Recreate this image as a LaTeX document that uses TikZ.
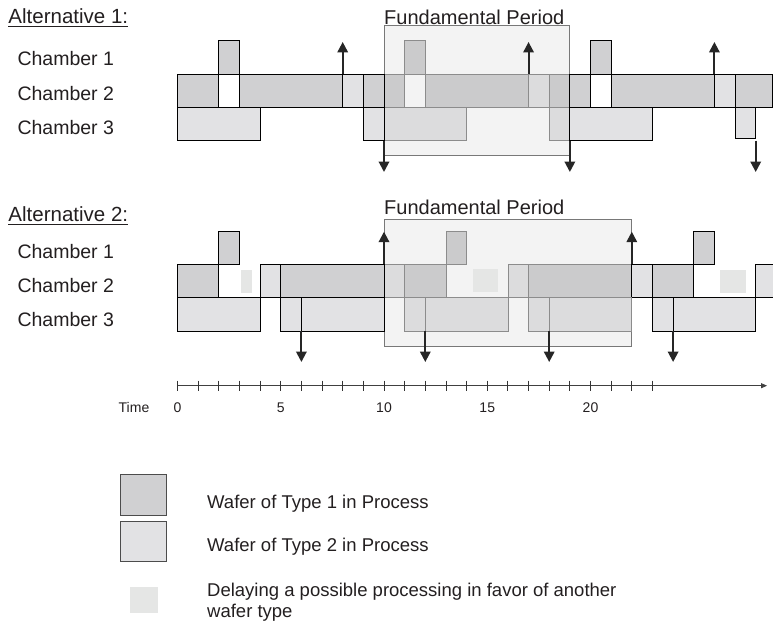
\documentclass[tikz,border=0pt]{standalone}
\usepackage{fontspec}
\setmainfont{Liberation Sans}
\usetikzlibrary{arrows.meta}

\definecolor{typeone}{RGB}{208,208,210}
\definecolor{typetwo}{RGB}{226,226,228}
\definecolor{typeonein}{RGB}{203,203,204}
\definecolor{typetwoin}{RGB}{220,220,221}
\definecolor{periodfill}{RGB}{243,243,243}
\definecolor{periodline}{RGB}{120,120,120}
\definecolor{innerline}{RGB}{140,140,140}
\definecolor{delayfill}{RGB}{229,230,229}
\definecolor{inktext}{RGB}{35,31,32}

% one time slot of a chamber: style, start, end, top, bottom
\newcommand\gslot[5]{\path[#1] (#2,#4) rectangle (#3,#5);}

\begin{document}
\begin{tikzpicture}[x=1pt,y=-1pt,
  wone/.style={fill=typeone,draw=black,line width=0.8pt},
  wtwo/.style={fill=typetwo,draw=black,line width=0.8pt},
  idle/.style={fill=white,draw=black,line width=0.8pt},
  wonein/.style={fill=typeonein,draw=innerline,line width=0.8pt},
  wtwoin/.style={fill=typetwoin,draw=innerline,line width=0.8pt},
  idlein/.style={draw=innerline,line width=0.8pt},
  periodbox/.style={fill=periodfill,draw=periodline,line width=1pt},
  delaysq/.style={fill=delayfill},
  upmark/.style={-{Triangle[length=10.5pt,width=10.5pt]},line width=2pt,draw=black!85},
  downmark/.style={-{Triangle[length=10.5pt,width=10.5pt]},line width=2pt,draw=black!85},
  timeaxis/.style={-{Triangle[length=6pt,width=5pt]},line width=0.8pt,draw=black!75},
  tickmark/.style={line width=0.9pt,draw=black!80},
  headline/.style={font=\fontsize{20.5}{24}\selectfont,text=inktext,inner sep=0pt,anchor=base west},
  rowlabel/.style={font=\fontsize{19.5}{23}\selectfont,text=inktext,inner sep=0pt,anchor=base west},
  ticklabel/.style={font=\fontsize{14}{17}\selectfont,text=inktext,inner sep=0pt,anchor=base},
  legendtext/.style={font=\fontsize{18.5}{22}\selectfont,text=inktext,inner sep=0pt,anchor=base west},
  legendbox/.style={draw=black!70,line width=0.8pt}]
\useasboundingbox (0,0) rectangle (773,626);

% ---------------- Alternative 1 ----------------
\node[headline] (altone) at (8.3,24) {Alternative 1:};
\draw[line width=0.9pt,inktext] ([yshift=-2.7pt]altone.base west) -- ([yshift=-2.7pt]altone.base east);
\node[rowlabel] (aonech1) at (17.3,66) {Chamber 1};
\node[rowlabel] (aonech2) at (17.3,100.5) {Chamber 2};
\node[rowlabel] (aonech3) at (17.3,134.5) {Chamber 3};
\node[headline,font=\fontsize{20}{24}\selectfont] (aoneperiod) at (384,25) {Fundamental Period};

\begin{scope}[x=20.65pt,xshift=177.5pt]
  \path[periodbox] (10,26) rectangle (19,155);
  % chamber 1
  \gslot{wonein}{11}{12}{40.7}{74}
  \gslot{wone}{2}{3}{40.7}{74}
  \gslot{wone}{20}{21}{40.7}{74}
  % chamber 2
  \gslot{wonein}{10}{11}{74}{107.3}
  \gslot{idlein}{11}{12}{74}{107.3}
  \gslot{wonein}{12}{17}{74}{107.3}
  \gslot{wtwoin}{17}{18}{74}{107.3}
  \gslot{wonein}{18}{19}{74}{107.3}
  \gslot{wone}{0}{2}{74}{107.3}
  \gslot{idle}{2}{3}{74}{107.3}
  \gslot{wone}{3}{8}{74}{107.3}
  \gslot{wtwo}{8}{9}{74}{107.3}
  \gslot{wone}{9}{10}{74}{107.3}
  \gslot{wone}{19}{20}{74}{107.3}
  \gslot{idle}{20}{21}{74}{107.3}
  \gslot{wone}{21}{26}{74}{107.3}
  \gslot{wtwo}{26}{27}{74}{107.3}
  \gslot{wone}{27}{28.82}{74}{107.3}
  % chamber 3
  \gslot{wtwoin}{10}{14}{107.3}{140.7}
  \gslot{wtwoin}{18}{19}{107.3}{140.7}
  \gslot{wtwo}{0}{4}{107.3}{140.7}
  \gslot{wtwo}{9}{10}{107.3}{140.7}
  \gslot{wtwo}{19}{23}{107.3}{140.7}
  \gslot{wtwo}{27}{28}{107.3}{138.5}
  % wafer entering / leaving
  \foreach \t in {8,17,26} \draw[upmark] (\t,74) -- (\t,42);
  \foreach \t in {10,19,28} \draw[downmark] (\t,140.7) -- (\t,172);
\end{scope}

% ---------------- Alternative 2 ----------------
\node[headline] (alttwo) at (8.3,221.5) {Alternative 2:};
\draw[line width=0.9pt,inktext] ([yshift=-2.7pt]alttwo.base west) -- ([yshift=-2.7pt]alttwo.base east);
\node[rowlabel] (atwoch1) at (17.3,258) {Chamber 1};
\node[rowlabel] (atwoch2) at (17.3,292) {Chamber 2};
\node[rowlabel] (atwoch3) at (17.3,326) {Chamber 3};
\node[headline,font=\fontsize{20}{24}\selectfont] (atwoperiod) at (384,214) {Fundamental Period};

\begin{scope}[x=20.65pt,xshift=177.5pt]
  \path[periodbox] (10,219) rectangle (22,346.7);
  % chamber 1
  \gslot{wonein}{13}{14}{231}{264.3}
  \gslot{wone}{2}{3}{231}{264.3}
  \gslot{wone}{25}{26}{231}{264.3}
  % chamber 2
  \gslot{wtwoin}{10}{11}{264.3}{297.7}
  \gslot{wonein}{11}{13}{264.3}{297.7}
  \gslot{wtwoin}{16}{17}{264.3}{297.7}
  \gslot{wonein}{17}{22}{264.3}{297.7}
  \gslot{wone}{0}{2}{264.3}{297.7}
  \gslot{wtwo}{4}{5}{264.3}{297.7}
  \gslot{wone}{5}{10}{264.3}{297.7}
  \gslot{wtwo}{22}{23}{264.3}{297.7}
  \gslot{wone}{23}{25}{264.3}{297.7}
  \gslot{wtwo}{28}{28.85}{264.3}{297.7}
  % chamber 3
  \gslot{wtwoin}{11}{12}{297.7}{331}
  \gslot{wtwoin}{12}{16}{297.7}{331}
  \gslot{wtwoin}{17}{18}{297.7}{331}
  \gslot{wtwoin}{18}{22}{297.7}{331}
  \gslot{wtwo}{0}{4}{297.7}{331}
  \gslot{wtwo}{5}{6}{297.7}{331}
  \gslot{wtwo}{6}{10}{297.7}{331}
  \gslot{wtwo}{23}{24}{297.7}{331}
  \gslot{wtwo}{24}{28}{297.7}{331}
  % wafer entering / leaving
  \foreach \t in {10,22} \draw[upmark] (\t,264.3) -- (\t,231.7);
  \foreach \t in {6,12,18,24} \draw[downmark] (\t,331) -- (\t,362);
\end{scope}
% postponed processing
\path[delaysq] (241,270) rectangle (251.7,292.7);
\path[delaysq] (473.3,269) rectangle (498.3,291.7);
\path[delaysq] (720,270) rectangle (746,292.7);

% ---------------- time axis ----------------
\begin{scope}[x=20.65pt,xshift=177.5pt]
  \draw[timeaxis] (0,385.7) -- (28.55,385.7);
  \foreach \t in {0,...,23} \draw[tickmark] (\t,380.7) -- (\t,390.7);
  \foreach \t in {0,5,10,15,20} \node[ticklabel] at (\t,412) {\t};
\end{scope}
\node[ticklabel,anchor=base] (timelabel) at (134,412) {Time};

% ---------------- legend ----------------
\path[legendbox,fill=typeone] (120.7,474) rectangle (166.7,515);
\path[legendbox,fill=typetwo] (120.7,521) rectangle (166.7,561.7);
\path[delaysq] (130,586.7) rectangle (158.3,613.3);
\node[legendtext] (legone) at (207,508.3) {Wafer of Type 1 in Process};
\node[legendtext] (legtwo) at (207,551.6) {Wafer of Type 2 in Process};
\node[legendtext] (legdelaya) at (207,596.6) {Delaying a possible processing in favor of another};
\node[legendtext] (legdelayb) at (207,617.3) {wafer type};
\end{tikzpicture}
\end{document}
